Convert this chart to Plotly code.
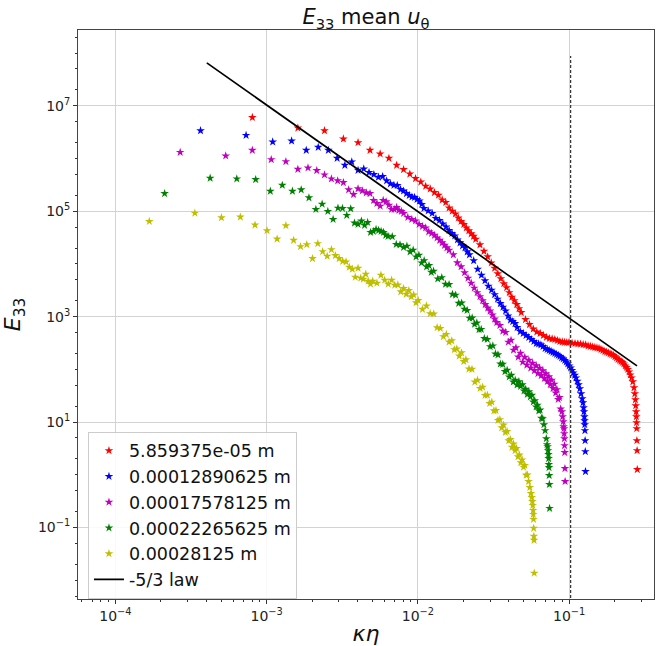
import plotly.graph_objects as go

# Sampled wavenumber indices (shared by every resolution)
k_index = (list(range(1, 31)) + list(range(32, 61, 2)) + list(range(64, 125, 4))
           + list(range(130, 335, 6)) + [338, 341, 343, 345, 346, 347, 348, 349, 350, 351])

labels = ["5.859375e-05 m", "0.00012890625 m", "0.00017578125 m",
          "0.00022265625 m", "0.00028125 m"]
colors = ["#ff0000", "#0000ff", "#bf00bf", "#008000", "#bfbf00"]

# k*eta of the first wavenumber for each resolution
keta_first = [8.04e-4, 3.654e-4, 2.68e-4, 2.115e-4, 1.675e-4]

# log10(E33) at the sampled wavenumbers
log_E_red = [
    6.779, 6.578, 6.527, 6.371, 6.301, 6.155, 6.087, 6.004, 5.871, 5.790,
    5.705, 5.620, 5.554, 5.474, 5.422, 5.355, 5.304, 5.214, 5.166, 5.062,
    5.002, 4.949, 4.873, 4.807, 4.750, 4.684, 4.628, 4.571, 4.524, 4.467,
    4.363, 4.240, 4.136, 4.019, 3.919, 3.815, 3.720, 3.626, 3.550, 3.456,
    3.371, 3.304, 3.229, 3.153, 3.078,
    2.945, 2.851, 2.766, 2.709, 2.681, 2.643, 2.609, 2.586, 2.577, 2.567,
    2.548, 2.529, 2.520, 2.514, 2.510, 2.510,
    2.497, 2.491, 2.486, 2.478, 2.469, 2.463, 2.444, 2.435, 2.425, 2.416,
    2.406, 2.397, 2.378, 2.359, 2.340, 2.327, 2.312, 2.293, 2.284, 2.265,
    2.240, 2.217, 2.189, 2.170, 2.151, 2.132, 2.104, 2.066, 2.038, 2.000,
    1.953, 1.896, 1.839, 1.764, 1.650,
    1.537, 1.423, 1.310, 1.197, 1.102, 0.989, 0.875, 0.648, 0.459, 0.100]

log_E_blue = [
    6.527, 6.439, 6.314, 6.333, 6.155, 6.212, 6.155, 6.004, 5.871, 5.936,
    5.777, 5.803, 5.733, 5.696, 5.645, 5.658, 5.577, 5.520, 5.493, 5.488,
    5.412, 5.384, 5.336, 5.299, 5.270, 5.261, 5.223, 5.195, 5.129, 5.053,
    5.006, 4.958, 4.864, 4.826, 4.760, 4.703, 4.637, 4.580, 4.533, 4.457,
    4.401, 4.344, 4.306, 4.231, 4.174,
    4.061, 3.900, 3.786, 3.682, 3.578, 3.503, 3.418, 3.333, 3.248, 3.181,
    3.106, 3.011, 2.936, 2.907, 2.870, 2.794,
    2.718, 2.681, 2.643, 2.605, 2.567, 2.529, 2.491, 2.482, 2.463, 2.435,
    2.397, 2.378, 2.359, 2.340, 2.321, 2.303, 2.284, 2.265, 2.246, 2.217,
    2.198, 2.170, 2.142, 2.104, 2.066, 2.028, 1.981, 1.934, 1.887, 1.839,
    1.773, 1.707, 1.631, 1.537, 1.442,
    1.367, 1.272, 1.197, 1.102, 1.027, 0.951, 0.838, 0.648, 0.440, 0.062]

log_E_magenta = [
    6.117, 6.049, 6.155, 5.979, 5.941, 5.796, 5.822, 5.771, 5.690, 5.614,
    5.577, 5.544, 5.406, 5.318, 5.425, 5.388, 5.350, 5.336, 5.204, 5.147,
    5.096, 5.204, 5.180, 5.115, 5.034, 5.034, 5.072, 5.015, 4.996, 4.958,
    4.883, 4.845, 4.817, 4.750, 4.713, 4.684, 4.609, 4.580, 4.543, 4.495,
    4.448, 4.401, 4.353, 4.306, 4.259,
    4.174, 4.023, 3.947, 3.834, 3.730, 3.635, 3.541, 3.456, 3.380, 3.304,
    3.229, 3.163, 3.106, 3.030, 2.955, 2.889,
    2.833, 2.727, 2.702, 2.517, 2.551, 2.365, 2.410, 2.233, 2.306, 2.138,
    2.230, 2.082, 2.173, 2.025, 2.117, 1.978, 2.069, 1.921, 2.022, 1.883,
    1.975, 1.827, 1.918, 1.770, 1.861, 1.713, 1.795, 1.638, 1.720, 1.552,
    1.616, 1.430, 1.465, 1.250, 1.197,
    1.102, 1.008, 0.913, 0.875, 0.781, 0.686, 0.554, 0.422, 0.119, -0.127]

log_E_green = [
    5.336, 5.626, 5.614, 5.601, 5.380, 5.493, 5.380, 5.406, 5.255, 5.034,
    5.134, 4.996, 4.845, 5.059, 5.053, 4.921, 5.047, 4.775, 4.750, 4.813,
    4.732, 4.788, 4.599, 4.618, 4.656, 4.637, 4.618, 4.599, 4.543, 4.524,
    4.517, 4.370, 4.364, 4.313, 4.337, 4.230, 4.262, 4.134, 4.166, 4.020,
    4.063, 3.946, 3.969, 3.841, 3.863,
    3.717, 3.741, 3.615, 3.610, 3.425, 3.409, 3.254, 3.259, 3.143, 3.118,
    2.971, 2.975, 2.857, 2.881, 2.755, 2.759,
    2.584, 2.568, 2.432, 2.446, 2.292, 2.277, 2.102, 2.096, 1.959, 1.983,
    1.857, 1.889, 1.761, 1.793, 1.704, 1.766, 1.678, 1.710, 1.591, 1.623,
    1.525, 1.577, 1.479, 1.511, 1.383, 1.406, 1.288, 1.322, 1.214, 1.228,
    1.072, 1.065, 0.951, 0.838, 0.686,
    0.573, 0.535, 0.459, 0.384, 0.308, 0.195, 0.138, -0.013, -0.183, -0.637]

log_E_yellow = [
    4.807, 4.964, 4.877, 4.889, 4.737, 4.631, 4.473, 4.726, 4.448, 4.329,
    4.367, 4.102, 4.386, 4.234, 4.146, 4.272, 4.159, 4.102, 4.051, 4.038,
    3.938, 3.900, 3.749, 3.919, 3.730, 3.711, 3.805, 3.673, 3.616, 3.673,
    3.635, 3.786, 3.692, 3.616, 3.692, 3.597, 3.601, 3.472, 3.533, 3.424,
    3.496, 3.378, 3.412, 3.264, 3.306,
    3.140, 3.203, 3.057, 3.052, 2.791, 2.777, 2.621, 2.664, 2.518, 2.542,
    2.375, 2.389, 2.252, 2.315, 2.150, 2.183,
    2.007, 2.002, 1.760, 1.795, 1.639, 1.663, 1.506, 1.510, 1.354, 1.379,
    1.214, 1.219, 1.033, 1.047, 0.891, 0.944, 0.807, 0.822, 0.646, 0.669,
    0.522, 0.585, 0.458, 0.500, 0.343, 0.376, 0.229, 0.283, 0.146, 0.179,
    -0.007, -0.002, -0.127, -0.240, -0.354,
    -0.429, -0.505, -0.580, -0.675, -0.750, -0.845, -1.015, -1.166, -1.242, -1.866]

spectra = [log_E_red, log_E_blue, log_E_magenta, log_E_green, log_E_yellow]

# Reference power-law line (end points) and the dashed marker line
law_x = [4.02e-4, 0.281]
law_y = [6.5e7, 116.0]
cutoff_x = 0.1023
cutoff_y = [1e-3, 8.8e7]

x_tickvals = [1e-4, 1e-3, 1e-2, 1e-1]
x_ticktext = ["10<sup>−4</sup>", "10<sup>−3</sup>", "10<sup>−2</sup>", "10<sup>−1</sup>"]
y_tickvals = [1e-1, 1e1, 1e3, 1e5, 1e7]
y_ticktext = ["10<sup>−1</sup>", "10<sup>1</sup>", "10<sup>3</sup>", "10<sup>5</sup>", "10<sup>7</sup>"]

FONT = "DejaVu Sans"
fig = go.Figure()

for i, (name, color, k1, logE) in enumerate(zip(labels, colors, keta_first, spectra)):
    fig.add_trace(go.Scatter(
        x=[k * k1 for k in k_index],
        y=[10 ** v for v in logE],
        mode="markers",
        name=name,
        marker=dict(symbol="star", size=6.5, color=color, line=dict(width=0)),
    ))

fig.add_trace(go.Scatter(
    x=law_x, y=law_y, mode="lines", name="-5/3 law",
    line=dict(color="black", width=1.7),
))

fig.add_trace(go.Scatter(
    x=[cutoff_x, cutoff_x], y=cutoff_y, mode="lines", showlegend=False,
    line=dict(color="#333333", width=1.2, dash="3px,2px"),
))

axis_common = dict(
    type="log", showline=True, linecolor="#444444", linewidth=1, mirror=True,
    ticks="outside", ticklen=4, tickwidth=1, tickcolor="#333333",
    showgrid=True, gridcolor="#d3d3d3", gridwidth=1, zeroline=False,
    tickfont=dict(family=FONT, size=14, color="#222222"),
)

fig.update_layout(
    width=656, height=646,
    margin=dict(l=78, r=1, t=30, b=45),
    paper_bgcolor="white", plot_bgcolor="white",
    font=dict(family=FONT, color="#111111"),
    title=dict(text="<i>E</i><sub>33</sub> mean <i>u</i><sub>θ</sub>",
               x=0.5, xref="paper", xanchor="center",
               y=1 - 17 / 646, yref="container", yanchor="middle",
               font=dict(family=FONT, size=21, color="#111111")),
    xaxis=dict(axis_common, range=[-4.2475, -0.4389],
               tickmode="array", tickvals=x_tickvals, ticktext=x_ticktext,
               minor=dict(ticks="outside", ticklen=2, tickcolor="#333333",
                          dtick="D1", showgrid=False),
               title=dict(text="<i>κη</i>", standoff=6,
                          font=dict(family=FONT, size=22, color="#111111"))),
    yaxis=dict(axis_common, range=[-2.357, 8.4367],
               tickmode="array", tickvals=y_tickvals, ticktext=y_ticktext,
               minor=dict(ticks="outside", ticklen=2, tickcolor="#333333",
                          dtick="D2", showgrid=False),
               title=dict(text="<i>E</i><sub>33</sub>", standoff=12,
                          font=dict(family=FONT, size=22, color="#111111"))),
    legend=dict(x=0.0173, y=0.294, xanchor="left", yanchor="top",
                bgcolor="rgba(255,255,255,0.85)", bordercolor="#cccccc",
                borderwidth=1, font=dict(family=FONT, size=17.5, color="#111111"),
                itemsizing="trace"),
    showlegend=True,
)

fig.write_html("out.html")
